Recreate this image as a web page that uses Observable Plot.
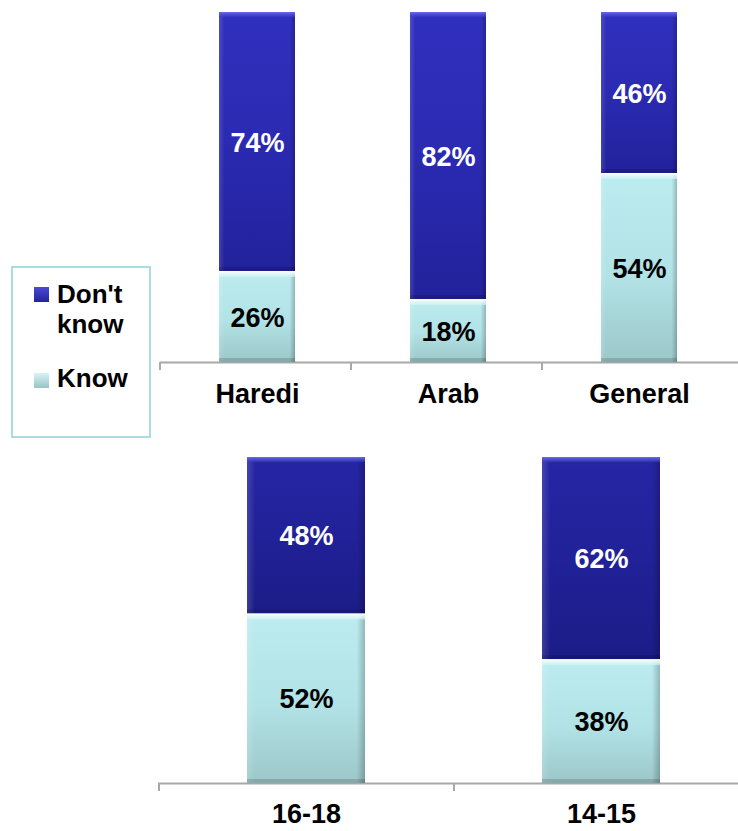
<!DOCTYPE html>
<html><head><meta charset="utf-8">
<script src="https://cdn.jsdelivr.net/npm/d3@7"></script>
<script src="https://cdn.jsdelivr.net/npm/@observablehq/plot@0.6"></script>
<style>
html,body{margin:0;padding:0;background:#fff;}
#wrap{position:relative;width:738px;height:831px;overflow:hidden;font-family:"Liberation Sans",Arial,sans-serif;}
#top,#bottom{position:absolute;left:0;}
#top{top:0;width:738px;}
#bottom{top:420px;width:748px;}
#legend{position:absolute;left:11px;top:266px;width:136px;height:168px;border:2px solid #aadde0;}
#legend .sw{position:absolute;left:21px;width:15px;height:15px;}
#legend .lb{position:absolute;left:44px;font-size:26px;line-height:30px;font-weight:bold;color:#000;}
g[aria-label="segments"]{filter:drop-shadow(2px 1px 1.5px rgba(0,0,0,0.35));}
</style>
</head><body>
<svg width="0" height="0" style="position:absolute">
  <defs>
    <linearGradient id="gD" x1="0" y1="0" x2="0" y2="1">
      <stop offset="0" stop-color="#3030bf"/>
      <stop offset="0.5" stop-color="#2a2ab2"/>
      <stop offset="1" stop-color="#22229c"/>
    </linearGradient>
    <linearGradient id="gD2" x1="0" y1="0" x2="0" y2="1">
      <stop offset="0" stop-color="#2626a6"/>
      <stop offset="0.5" stop-color="#212198"/>
      <stop offset="1" stop-color="#1c1c88"/>
    </linearGradient>
    <linearGradient id="gK" x1="0" y1="0" x2="0" y2="1">
      <stop offset="0" stop-color="#bcecf0"/>
      <stop offset="0.55" stop-color="#b1e2e5"/>
      <stop offset="1" stop-color="#9cc7c9"/>
    </linearGradient>
    <linearGradient id="hD" x1="0" y1="0" x2="0" y2="1">
      <stop offset="0" stop-color="#6c6cea"/>
      <stop offset="1" stop-color="#3a3ac6" stop-opacity="0.6"/>
    </linearGradient>
    <linearGradient id="hK" x1="0" y1="0" x2="0" y2="1">
      <stop offset="0" stop-color="#ffffff"/>
      <stop offset="1" stop-color="#d4f4f6" stop-opacity="0.6"/>
    </linearGradient>
    <linearGradient id="side" x1="0" y1="0" x2="1" y2="0">
      <stop offset="0" stop-color="#ffffff" stop-opacity="0.14"/>
      <stop offset="0.07" stop-color="#ffffff" stop-opacity="0"/>
      <stop offset="0.93" stop-color="#000000" stop-opacity="0"/>
      <stop offset="1" stop-color="#000000" stop-opacity="0.22"/>
    </linearGradient>
  </defs>
</svg>
<div id="wrap">
  <div id="top"></div>
  <div id="bottom"></div>
  <div id="legend">
    <div class="sw" style="top:19px;background:linear-gradient(#4a4ad6,#23239e);"></div>
    <div class="lb" style="top:11px;">Don't<br>know</div>
    <div class="sw" style="top:105px;background:linear-gradient(#d6f4f6,#98c4c6);"></div>
    <div class="lb" style="top:95px;">Know</div>
  </div>
</div>
<script>
const topCats = ["Haredi", "Arab", "General"];
const topKnow = [26, 18, 54];
const topDontKnow = [74, 82, 46];
const bottomCats = ["16-18", "14-15"];
const bottomKnow = [52, 38];
const bottomDontKnow = [48, 62];

function rowsFor(cats, know, dont) {
  const rows = [];
  cats.forEach((c, i) => {
    rows.push({cat: c, series: "Know", value: know[i], y1: 0, y2: know[i]});
    rows.push({cat: c, series: "Don't know", value: dont[i], y1: know[i], y2: know[i] + dont[i]});
  });
  return rows;
}

function panel(cats, rows, o) {
  const know = rows.filter(d => d.series === "Know");
  const dont = rows.filter(d => d.series !== "Know");
  const step = (o.width - o.marginLeft - o.marginRight) / cats.length;
  const font = 27;
  return Plot.plot({
    width: o.width, height: o.height,
    marginLeft: o.marginLeft, marginRight: o.marginRight,
    marginTop: o.marginTop, marginBottom: o.marginBottom,
    style: {fontFamily: "'Liberation Sans', Arial, sans-serif", background: "transparent", overflow: "visible", maxWidth: "none"},
    x: {domain: cats, paddingInner: 0.6, paddingOuter: 0.3, axis: null},
    y: {domain: [0, 100], axis: null},
    marks: [
      Plot.ruleY([0], {stroke: "#a8a8a8", strokeWidth: 2, insetLeft: -o.extendLeft, insetRight: -(o.marginRight + 2)}),
      Plot.axisX({tickSize: 8, dx: -step / 2 - o.extendLeft, fill: "none", stroke: "#a8a8a8", strokeWidth: 2, label: null}),
      Plot.barY(know, {x: "cat", y1: "y1", y2: "y2", fill: "url(#gK)", ariaLabel: "segments"}),
      Plot.barY(dont, {x: "cat", y1: "y1", y2: "y2", fill: `url(#${o.dark})`, ariaLabel: "segments"}),
      Plot.barY(rows, {x: "cat", y1: "y1", y2: "y2", fill: "url(#side)"}),
      Plot.barY(know, {x: "cat", y1: "y2", y2: "y2", insetBottom: -6, fill: "url(#hK)"}),
      Plot.barY(dont, {x: "cat", y1: "y2", y2: "y2", insetBottom: -5, fill: "url(#hD)"}),
      Plot.barY(rows, {x: "cat", y1: "y1", y2: "y1", insetTop: -4, fill: "#000", fillOpacity: 0.15}),
      Plot.text(know, {x: "cat", y: d => (d.y1 + d.y2) / 2, dy: 1, text: d => d.value + "%", fill: "#000", fontSize: font, fontWeight: "bold"}),
      Plot.text(dont, {x: "cat", y: d => (d.y1 + d.y2) / 2, dy: 1, text: d => d.value + "%", fill: "#fff", fontSize: font, fontWeight: "bold"}),
      Plot.text(cats, {x: d => d, frameAnchor: "bottom", dy: o.labelDy, text: d => d, fill: "#000", fontSize: font, fontWeight: "bold"})
    ]
  });
}

document.getElementById("top").append(panel(topCats, rowsFor(topCats, topKnow, topDontKnow),
  {width: 738, height: 420, marginLeft: 162, marginRight: 3, marginTop: 12, marginBottom: 58, dark: "gD", extendLeft: 2, labelDy: 40}));
document.getElementById("bottom").append(panel(bottomCats, rowsFor(bottomCats, bottomKnow, bottomDontKnow),
  {width: 748, height: 411, marginLeft: 158, marginRight: 0, marginTop: 37, marginBottom: 48, dark: "gD2", extendLeft: 0, labelDy: 39}));
</script>
</body></html>
